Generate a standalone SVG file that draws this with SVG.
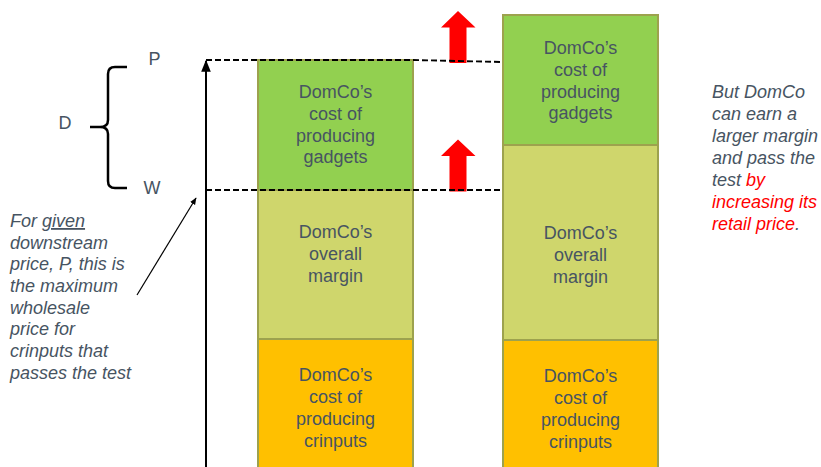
<svg xmlns="http://www.w3.org/2000/svg" width="821" height="467" viewBox="0 0 821 467">
  <style>
    text { font-family: "Liberation Sans", Arial, sans-serif; font-size: 18px; fill: #475462; }
    .c { text-anchor: middle; }
    .it { font-style: italic; }
    .red { fill: #ff0000; }
    .box { stroke: #9da24e; stroke-width: 2; }
    .gad { fill: #92d050; }
    .mar { fill: #cfd66c; }
    .cri { fill: #ffc000; }
    .dash { stroke: #000; stroke-width: 1.9; stroke-dasharray: 6 3; fill: none; }
  </style>
  <defs>
    <marker id="ah" viewBox="0 0 10 10" refX="9" refY="5" markerWidth="6" markerHeight="6" orient="auto">
      <path d="M0,1 L10,5 L0,9 z" fill="#000"/>
    </marker>
  </defs>

  <!-- stacked bar: current prices -->
  <g id="bar-left">
    <rect class="box cri" x="258" y="339" width="155" height="140"/>
    <rect class="box mar" x="258" y="190" width="155" height="149"/>
    <rect class="box gad" x="258" y="60" width="155" height="130"/>
    <text class="c" x="335.5" y="98">DomCo’s</text>
    <text class="c" x="335.5" y="120">cost of</text>
    <text class="c" x="335.5" y="142">producing</text>
    <text class="c" x="335.5" y="163">gadgets</text>
    <text class="c" x="335.5" y="238">DomCo’s</text>
    <text class="c" x="335.5" y="260">overall</text>
    <text class="c" x="335.5" y="282">margin</text>
    <text class="c" x="335.5" y="381">DomCo’s</text>
    <text class="c" x="335.5" y="403">cost of</text>
    <text class="c" x="335.5" y="425">producing</text>
    <text class="c" x="335.5" y="447">crinputs</text>
  </g>

  <!-- stacked bar: raised retail price -->
  <g id="bar-right">
    <rect class="box cri" x="503" y="340" width="155" height="140"/>
    <rect class="box mar" x="503" y="145" width="155" height="195"/>
    <rect class="box gad" x="503" y="15" width="155" height="130"/>
    <text class="c" x="580.5" y="54">DomCo’s</text>
    <text class="c" x="580.5" y="76">cost of</text>
    <text class="c" x="580.5" y="98">producing</text>
    <text class="c" x="580.5" y="119">gadgets</text>
    <text class="c" x="580.5" y="239">DomCo’s</text>
    <text class="c" x="580.5" y="261">overall</text>
    <text class="c" x="580.5" y="283">margin</text>
    <text class="c" x="580.5" y="382">DomCo’s</text>
    <text class="c" x="580.5" y="404">cost of</text>
    <text class="c" x="580.5" y="426">producing</text>
    <text class="c" x="580.5" y="448">crinputs</text>
  </g>

  <!-- red up arrows -->
  <g id="up-arrow-top">
    <path d="M449.5,63 L449.5,27.5 L441,27.5 L458,11 L475.5,27.5 L466.5,27.5 L466.5,63 z" fill="#ff0000"/>
  </g>
  <g id="up-arrow-bottom">
    <path d="M449.5,191.5 L449.5,156 L441,156 L458,139.5 L475.5,156 L466.5,156 L466.5,191.5 z" fill="#ff0000"/>
  </g>

  <!-- axis labels and brace -->
  <g id="label-p"><text x="148.5" y="65">P</text></g>
  <g id="label-w"><text x="143.5" y="194">W</text></g>
  <g id="label-d"><text x="58.5" y="129">D</text></g>
  <g id="brace">
    <path d="M127,67 L115,67 Q108,67 108,74 L108,120 Q108,127 100,127 L90,127 M100,127 Q108,127 108,134 L108,181 Q108,188 115,188 L127,188" fill="none" stroke="#000" stroke-width="2.5"/>
  </g>

  <!-- left note -->
  <g id="note-left">
    <text class="it" x="10" y="227">For <tspan text-decoration="underline">given</tspan></text>
    <text class="it" x="10" y="249">downstream</text>
    <text class="it" x="10" y="270">price, P, this is</text>
    <text class="it" x="10" y="292">the maximum</text>
    <text class="it" x="10" y="314">wholesale</text>
    <text class="it" x="10" y="335">price for</text>
    <text class="it" x="10" y="357">crinputs that</text>
    <text class="it" x="10" y="379">passes the test</text>
  </g>

  <!-- right note -->
  <g id="note-right">
    <text class="it" x="712" y="98">But DomCo</text>
    <text class="it" x="712" y="120">can earn a</text>
    <text class="it" x="712" y="142">larger margin</text>
    <text class="it" x="712" y="164">and pass the</text>
    <text class="it" x="712" y="186">test <tspan class="red">by</tspan></text>
    <text class="it red" x="712" y="208">increasing its</text>
    <text class="it" x="712" y="230"><tspan class="red">retail price</tspan>.</text>
  </g>

  <!-- connectors -->
  <g id="connectors">
    <line x1="206" y1="467" x2="206" y2="61" stroke="#000" stroke-width="2" marker-end="url(#ah)"/>
    <path class="dash" d="M206,60 L413,60 L503,62"/>
    <path class="dash" d="M206,190 L503,190"/>
    <line x1="137" y1="295" x2="196" y2="198" stroke="#000" stroke-width="1.2" marker-end="url(#ah)"/>
  </g>
</svg>
